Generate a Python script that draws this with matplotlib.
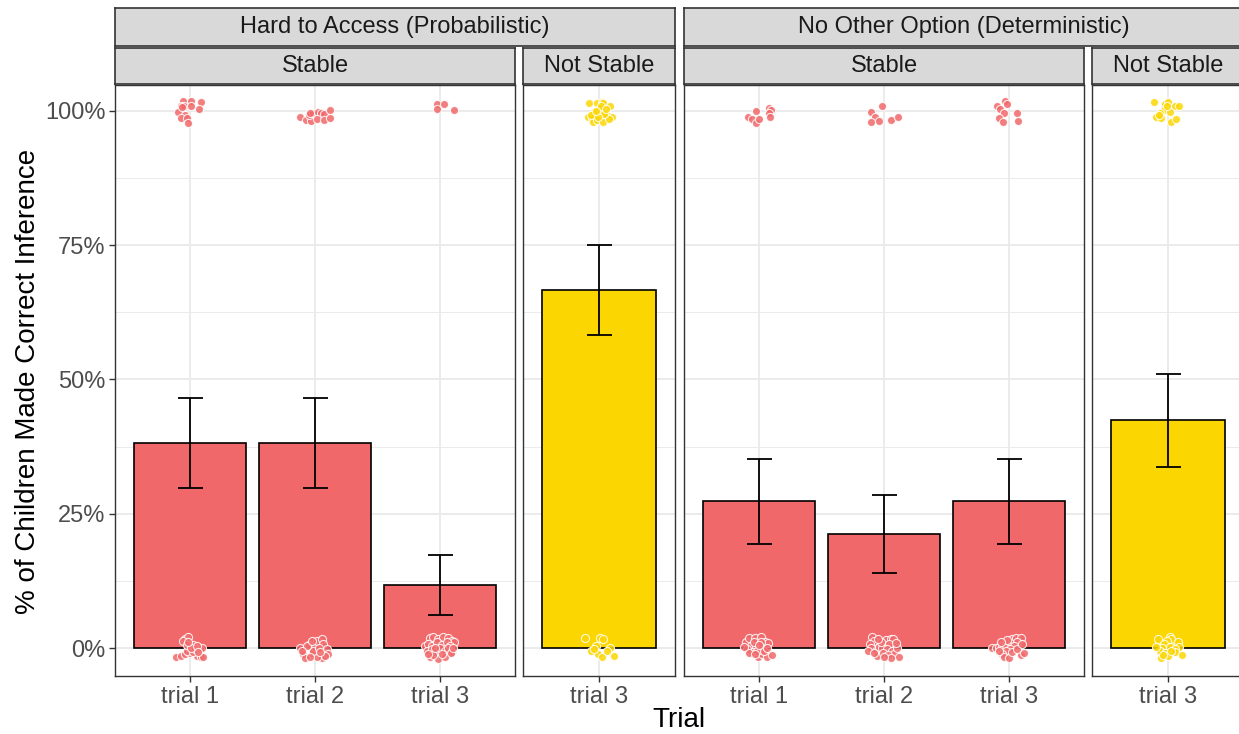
import matplotlib.pyplot as plt
from matplotlib.ticker import FixedLocator

plt.rcParams['font.family'] = ['Liberation Sans', 'DejaVu Sans']

# colours
red = '#F0686A'
gold = '#FCD600'

# facet labels
groups = ['Hard to Access (Probabilistic)', 'No Other Option (Deterministic)']
stabilities = ['Stable', 'Not Stable']

# bar values (proportion correct) and error bar limits
hard_stable_trials = ['trial 1', 'trial 2', 'trial 3']
hard_stable_mean = [0.382, 0.382, 0.118]
hard_stable_lo = [0.297, 0.297, 0.061]
hard_stable_hi = [0.466, 0.466, 0.173]

hard_unstable_trials = ['trial 3']
hard_unstable_mean = [0.667]
hard_unstable_lo = [0.583]
hard_unstable_hi = [0.750]

other_stable_trials = ['trial 1', 'trial 2', 'trial 3']
other_stable_mean = [0.273, 0.212, 0.273]
other_stable_lo = [0.194, 0.139, 0.194]
other_stable_hi = [0.351, 0.284, 0.351]

other_unstable_trials = ['trial 3']
other_unstable_mean = [0.424]
other_unstable_lo = [0.337]
other_unstable_hi = [0.511]

# jittered raw responses: (x offset, y offset) around 1 (correct) and 0 (wrong)
hs1_top = [(-0.056, 0.019), (0.008, 0.019), (0.088, 0.017), (-0.072, 0.009), (-0.048, 0.009),
           (0.008, 0.009), (0.072, 0.004), (-0.096, -0.002), (-0.04, -0.007), (-0.072, -0.013),
           (-0.024, -0.013), (-0.016, -0.022), (-0.064, 0.007)]
hs1_bot = [(-0.112, -0.016), (-0.075, -0.014), (-0.04, -0.011), (0.0, -0.010), (0.053, -0.014),
           (0.088, -0.017), (0.107, -0.017), (-0.027, -0.005), (0.027, -0.008), (-0.04, 0.017),
           (-0.019, 0.02), (-0.053, 0.014), (0.021, 0.006), (0.04, -0.002), (0.08, -0.002),
           (0.099, 0.001), (-0.027, 0.006), (0.008, 0.0), (0.053, 0.004), (-0.013, 0.011),
           (0.067, -0.008)]
hs2_top = [(-0.12, -0.011), (-0.075, -0.017), (-0.032, -0.019), (-0.048, -0.008), (-0.013, -0.004),
           (0.027, -0.003), (0.048, -0.004), (0.075, -0.006), (0.12, 0.001), (0.013, -0.016),
           (0.075, -0.017), (0.12, -0.014), (-0.04, -0.005)]
hs2_bot = [(-0.12, 0.0), (-0.093, -0.011), (-0.08, -0.019), (-0.048, 0.006), (-0.027, -0.01),
           (0.0, 0.002), (0.013, 0.014), (0.053, 0.017), (0.067, 0.007), (0.093, -0.002),
           (0.107, -0.011), (0.053, -0.019), (0.013, -0.016), (-0.013, -0.005), (-0.067, 0.004),
           (0.032, 0.0), (-0.04, -0.017), (0.08, -0.014), (-0.107, -0.005), (0.04, -0.008),
           (-0.027, 0.014)]
hs3_top = [(-0.027, 0.012), (0.035, 0.012), (-0.027, 0.004), (0.112, 0.001)]
hs3_bot = [(-0.08, 0.019), (-0.053, 0.02), (-0.013, 0.017), (0.027, 0.02), (0.067, 0.019),
           (0.099, 0.014), (0.115, 0.011), (-0.12, 0.004), (-0.093, 0.007), (-0.061, 0.004),
           (-0.027, 0.011), (0.013, 0.006), (0.053, 0.011), (0.08, 0.004), (-0.107, -0.005),
           (-0.067, -0.002), (-0.035, -0.008), (0.0, 0.0), (0.04, -0.005), (0.067, 0.0),
           (0.093, -0.008), (-0.08, -0.017), (-0.019, -0.02), (0.04, -0.017), (0.085, -0.01),
           (-0.053, -0.012), (0.013, -0.011), (-0.093, -0.011), (0.107, 0.001), (-0.04, 0.001)]
hu3_top = [(-0.077, 0.014), (-0.013, 0.014), (0.021, 0.017), (0.029, 0.014), (0.083, 0.008),
           (0.008, 0.006), (-0.04, -0.003), (0.021, -0.003), (0.061, -0.008), (0.101, -0.012),
           (-0.085, -0.011), (-0.059, -0.014), (-0.051, -0.02), (-0.013, -0.017), (0.029, -0.02),
           (0.075, -0.016), (0.013, 0.009), (-0.067, -0.007), (0.04, -0.006), (-0.005, -0.012),
           (-0.024, 0.0), (0.056, 0.003)]
hu3_bot = [(-0.107, 0.018), (0.008, 0.019), (0.029, 0.017), (-0.024, 0.003), (-0.067, -0.005),
           (-0.005, -0.011), (0.021, -0.016), (0.088, 0.001), (0.115, -0.014), (-0.04, -0.002),
           (0.061, -0.005)]
os1_top = [(-0.027, -0.001), (-0.085, -0.011), (-0.053, -0.016), (-0.027, -0.022), (0.0, -0.016),
           (0.08, 0.005), (0.099, 0.001), (0.08, -0.005), (0.085, -0.012)]
os1_bot = [(-0.107, 0.011), (-0.08, 0.019), (-0.035, 0.019), (0.013, 0.02), (0.048, 0.011),
           (0.072, 0.009), (-0.067, 0.004), (-0.027, 0.004), (0.019, 0.0), (-0.053, -0.008),
           (-0.008, -0.016), (0.027, -0.011), (0.061, -0.016), (0.107, -0.013), (-0.093, -0.002),
           (-0.013, -0.005), (0.04, -0.005), (-0.04, 0.011), (0.013, 0.011), (-0.08, -0.01),
           (-0.035, -0.011), (0.067, 0.001), (0.0, 0.006), (-0.12, 0.002)]
os2_top = [(-0.101, -0.002), (-0.019, 0.009), (-0.072, -0.011), (-0.101, -0.02), (-0.04, -0.019),
           (0.053, -0.017), (0.115, -0.011)]
os2_bot = [(-0.093, 0.02), (-0.08, 0.014), (-0.112, 0.007), (-0.107, 0.0), (-0.067, -0.005),
           (-0.04, 0.002), (-0.013, 0.0), (0.013, 0.015), (0.053, 0.016), (0.075, 0.017),
           (0.04, 0.007), (0.027, -0.002), (0.067, -0.005), (0.08, -0.011), (0.12, -0.016),
           (-0.053, -0.014), (-0.005, -0.01), (0.032, -0.012), (0.059, -0.019), (-0.128, -0.006),
           (-0.027, 0.011), (0.107, 0.001), (-0.08, -0.01), (0.0, -0.017), (0.093, 0.009),
           (-0.048, 0.017)]
os3_top = [(-0.032, 0.019), (-0.019, 0.012), (-0.099, 0.008), (-0.072, 0.003), (-0.04, -0.004),
           (-0.08, -0.014), (-0.045, -0.02), (0.067, -0.005), (0.075, -0.019)]
os3_bot = [(-0.133, 0.001), (-0.107, 0.001), (-0.08, 0.002), (-0.053, 0.004), (-0.027, 0.006),
           (0.0, 0.014), (0.027, 0.017), (0.053, 0.019), (0.093, 0.019), (0.067, 0.011),
           (0.04, 0.004), (0.008, -0.002), (-0.027, -0.005), (-0.053, -0.011), (-0.04, -0.017),
           (0.0, -0.019), (0.093, -0.012), (0.12, -0.01), (-0.08, -0.005), (0.027, -0.008),
           (0.067, -0.002), (-0.019, 0.015), (0.107, 0.007), (-0.067, 0.011)]
ou3_top = [(-0.107, 0.017), (-0.021, 0.012), (0.0, 0.016), (0.059, 0.009), (0.085, 0.008),
           (-0.032, 0.002), (0.013, -0.003), (-0.067, -0.005), (-0.093, -0.012), (-0.053, -0.014),
           (0.021, -0.02), (0.067, -0.016), (-0.005, 0.009), (-0.075, -0.008)]
ou3_bot = [(-0.08, 0.017), (0.013, 0.02), (0.027, 0.017), (0.075, 0.011), (0.085, 0.002),
           (-0.005, 0.014), (-0.032, 0.007), (-0.048, 0.0), (0.013, 0.002), (0.053, -0.002),
           (-0.067, -0.005), (-0.021, -0.01), (0.0, -0.014), (-0.059, -0.019), (0.059, -0.008),
           (0.112, -0.013), (0.027, -0.005), (-0.04, -0.012), (-0.093, 0.002)]

panels = [
    (hard_stable_trials, hard_stable_mean, hard_stable_lo, hard_stable_hi, red,
     [(hs1_top, hs1_bot), (hs2_top, hs2_bot), (hs3_top, hs3_bot)]),
    (hard_unstable_trials, hard_unstable_mean, hard_unstable_lo, hard_unstable_hi, gold,
     [(hu3_top, hu3_bot)]),
    (other_stable_trials, other_stable_mean, other_stable_lo, other_stable_hi, red,
     [(os1_top, os1_bot), (os2_top, os2_bot), (os3_top, os3_bot)]),
    (other_unstable_trials, other_unstable_mean, other_unstable_lo, other_unstable_hi, gold,
     [(ou3_top, ou3_bot)]),
]

W, H = 1239, 734
fig = plt.figure(figsize=(W / 100, H / 100), dpi=100)

# panel pixel extents (left, right)
px = [(115, 515), (523, 675), (684, 1084), (1092, 1244)]
ptop, pbot = 85, 676
border = '#333333'


def fbox(x0, x1, y0, y1):
    return [x0 / W, 1 - y1 / H, (x1 - x0) / W, (y1 - y0) / H]


axes = []
for i, (trials, mean, lo, hi, col, pts) in enumerate(panels):
    ax = fig.add_axes(fbox(px[i][0], px[i][1], ptop, pbot))
    axes.append(ax)
    x = list(range(len(trials)))
    ax.set_axisbelow(True)
    ax.bar(x, mean, width=0.9, color=col, edgecolor='black', linewidth=1.2, zorder=2)
    yerr = [[m - l for m, l in zip(mean, lo)], [h - m for m, h in zip(mean, hi)]]
    ax.errorbar(x, mean, yerr=yerr, fmt='none', ecolor='black', elinewidth=1.3,
                capsize=9, capthick=1.3, zorder=3)
    for xi, (top, bot) in zip(x, pts):
        for base, cl in ((1, top), (0, bot)):
            xs = [xi + d[0] for d in cl]
            ys = [base + d[1] for d in cl]
            ax.scatter(xs, ys, s=34, color=col, alpha=0.85, edgecolors='white',
                       linewidths=0.8, zorder=4, clip_on=False)
    ax.set_xlim(-0.6, len(trials) - 0.4)
    ax.set_ylim(-0.052, 1.048)
    ax.set_xticks(x)
    ax.set_xticklabels(trials, fontsize=17, color='#4D4D4D')
    ax.set_yticks([0, 0.25, 0.5, 0.75, 1.0])
    ax.yaxis.set_minor_locator(FixedLocator([0.125, 0.375, 0.625, 0.875]))
    ax.grid(True, which='major', color='#EBEBEB', linewidth=1.4)
    ax.grid(True, which='minor', axis='y', color='#EBEBEB', linewidth=0.7)
    ax.tick_params(axis='both', which='major', length=4, width=1, color=border, pad=3)
    ax.tick_params(axis='y', which='minor', length=0)
    if i == 0:
        ax.set_yticklabels(['0%', '25%', '50%', '75%', '100%'], fontsize=17, color='#4D4D4D')
    else:
        ax.tick_params(axis='y', which='major', length=0, labelleft=False)
    for sp in ax.spines.values():
        sp.set_color(border)
        sp.set_linewidth(1.0)

# strips
def strip(x0, x1, y0, y1, text):
    s = fig.add_axes(fbox(x0, x1, y0, y1))
    s.set_facecolor('#D9D9D9')
    s.set_xticks([])
    s.set_yticks([])
    for sp in s.spines.values():
        sp.set_color(border)
        sp.set_linewidth(1.2)
    s.text(0.5, 0.5, text, ha='center', va='center', fontsize=17, color='#1A1A1A',
           transform=s.transAxes)

strip(px[0][0], px[1][1], 8, 46, groups[0])
strip(px[2][0], px[3][1], 8, 46, groups[1])
for i in range(4):
    strip(px[i][0], px[i][1], 48, 84, stabilities[i % 2])

fig.text(28 / W, 1 - 381 / H, '% of Children Made Correct Inference', rotation=90,
         ha='center', va='center', fontsize=20)
fig.text(679 / W, 1 - 720 / H, 'Trial', ha='center', va='center', fontsize=20)

fig.savefig('out.png', dpi=100)
